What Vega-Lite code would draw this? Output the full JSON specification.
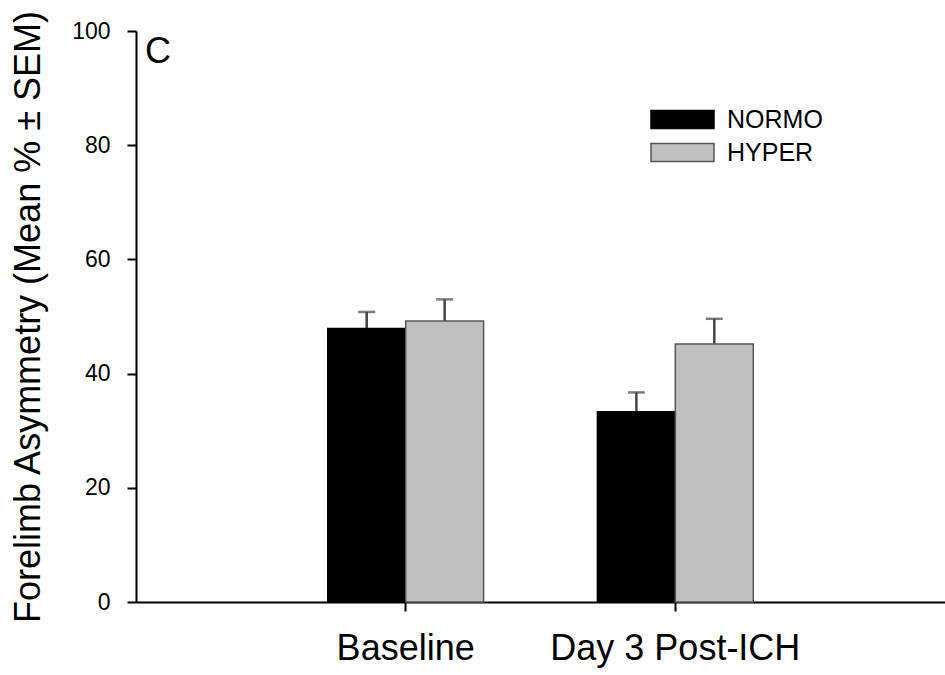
{
  "$schema": "https://vega.github.io/schema/vega-lite/v6.json",
  "width": 809,
  "height": 571,
  "autosize": {"type": "none"},
  "padding": {"left": 136, "top": 31, "right": 0, "bottom": 73},
  "background": "white",
  "config": {
    "view": {"stroke": null},
    "font": "Liberation Sans"
  },
  "title": {
    "text": "C",
    "anchor": "start",
    "frame": "group",
    "orient": "top",
    "offset": -61,
    "dx": 9,
    "fontSize": 36,
    "fontWeight": "normal",
    "color": "black",
    "font": "Liberation Sans"
  },
  "data": {
    "values": [
      {"time": "Baseline", "group": "NORMO", "mean": 47.9, "upper": 50.8},
      {"time": "Baseline", "group": "HYPER", "mean": 49.2, "upper": 53.0},
      {"time": "Day 3 Post-ICH", "group": "NORMO", "mean": 33.3, "upper": 36.7},
      {"time": "Day 3 Post-ICH", "group": "HYPER", "mean": 45.2, "upper": 49.6}
    ]
  },
  "encoding": {
    "x": {
      "field": "time",
      "type": "nominal",
      "sort": ["Baseline", "Day 3 Post-ICH"],
      "scale": {"paddingInner": 0, "paddingOuter": 0.5},
      "axis": {
        "title": null,
        "labelAngle": 0,
        "labelFontSize": 36,
        "labelLimit": 0,
        "labelColor": "black",
        "labelPadding": 20,
        "tickSize": 9,
        "tickWidth": 2,
        "tickColor": "black",
        "domainColor": "black",
        "domainWidth": 2,
        "grid": false
      }
    },
    "xOffset": {
      "field": "group",
      "type": "nominal",
      "sort": ["NORMO", "HYPER"],
      "scale": {"paddingInner": 0, "paddingOuter": 0.73}
    }
  },
  "layer": [
    {
      "mark": {"type": "rule", "color": "#444444", "strokeWidth": 2.5},
      "encoding": {
        "y": {"field": "mean", "type": "quantitative"},
        "y2": {"field": "upper"}
      }
    },
    {
      "mark": {"type": "tick", "color": "#444444", "size": 17, "thickness": 2.5, "orient": "horizontal"},
      "encoding": {
        "y": {"field": "upper", "type": "quantitative"}
      }
    },
    {
      "mark": {"type": "bar", "strokeWidth": 1.5},
      "encoding": {
        "y": {
          "field": "mean",
          "type": "quantitative",
          "scale": {"domain": [0, 100], "nice": false},
          "axis": {
            "title": "Forelimb Asymmetry (Mean % ± SEM)",
            "titleFontSize": 36,
            "titleFontWeight": "normal",
            "titleColor": "black",
            "titlePadding": 24,
            "values": [0, 20, 40, 60, 80, 100],
            "labelFontSize": 23,
            "labelColor": "black",
            "labelPadding": 17,
            "tickSize": 9,
            "tickWidth": 2,
            "tickColor": "black",
            "domainColor": "black",
            "domainWidth": 2,
            "grid": false
          }
        },
        "fill": {
          "field": "group",
          "type": "nominal",
          "sort": ["NORMO", "HYPER"],
          "scale": {"domain": ["NORMO", "HYPER"], "range": ["#000000", "#c0c0c0"]},
          "legend": {
            "title": null,
            "orient": "none",
            "legendX": 534,
            "legendY": 76,
            "padding": 0,
            "symbolType": "M-3.15,-0.9H3.15V0.9H-3.15Z",
            "symbolSize": 400,
            "symbolStrokeWidth": 1.5,
            "labelFontSize": 25,
            "labelColor": "black",
            "labelOffset": 32,
            "rowPadding": 7
          }
        },
        "stroke": {
          "field": "group",
          "type": "nominal",
          "sort": ["NORMO", "HYPER"],
          "scale": {"domain": ["NORMO", "HYPER"], "range": ["#000000", "#555555"]},
          "legend": null
        }
      }
    }
  ]
}
